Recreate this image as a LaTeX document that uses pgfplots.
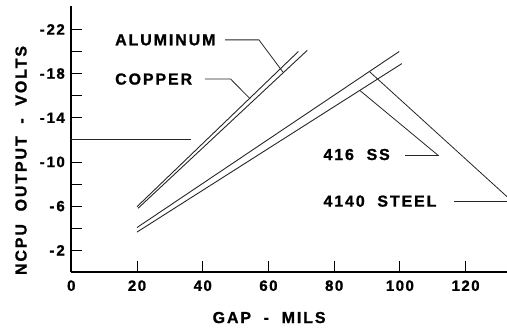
\documentclass[border=0pt]{standalone}
\usepackage{fontspec}
\setmainfont{Liberation Sans}[LetterSpace=12, BoldFeatures={FakeBold=1.2}]
\newfontfamily\tickfont{Liberation Sans}[LetterSpace=10, BoldFeatures={FakeBold=1.2}]
\usepackage{pgfplots}
\pgfplotsset{compat=1.18}
\begin{document}
\begin{tikzpicture}
\begin{axis}[
  scale only axis, width=435.7bp, height=266.2bp,
  xmin=0, xmax=132.6, ymin=-24.1, ymax=0, y dir=reverse,
  axis x line=bottom, axis y line=left,
  axis line style={-, line width=2.2bp, black},
  xtick={0,20,...,120}, xticklabels={0,20,40,60,80,100,120},
  ytick={-2,-6,-10,-14,-18,-22},
  yticklabels={-\kern2bp 2,-\kern2bp 6,-\kern2bp 10,-\kern2bp 14,-\kern2bp 18,-\kern2bp 22},
  minor ytick={-4,-8,-12,-16,-20},
  tick align=inside, major tick length=11bp, minor tick length=11bp,
  tick style={line width=0.8bp, black},
  ticklabel style={font=\tickfont\fontsize{15}{17}\selectfont\bfseries},
  xticklabel style={yshift=-4.5bp},
  yticklabel style={xshift=-3bp},
  clip=false,
]
% Copper
\addplot[black!85, line width=0.9bp] coordinates {(20,-5.95) (69.1,-20.0)};
% Aluminum
\addplot[black!85, line width=0.9bp] coordinates {(20.3,-5.8) (71.8,-20.1)};
% 4140 Steel
\addplot[black!85, line width=0.9bp] coordinates {(20,-4.06) (99.8,-20.0)};
% 416 SS
\addplot[black!85, line width=0.9bp] coordinates {(20,-3.65) (100.6,-18.9)};
% horizontal line
\addplot[black!85, line width=0.9bp] coordinates {(0,-12.08) (36.4,-12.08)};

% leaders
\draw[black!85, line width=0.8bp] (axis cs:46.8,-21.05) -- (axis cs:57.1,-21.05) -- (axis cs:64.5,-18.1);
\draw[black!85, line width=0.8bp] (axis cs:40.7,-17.5) -- (axis cs:48.5,-17.5) -- (axis cs:54.4,-15.72);
\draw[black!85, line width=0.8bp] (axis cs:101.6,-10.58) -- (axis cs:111.7,-10.58) -- (axis cs:87.9,-16.45);
\draw[black!85, line width=0.8bp] (axis cs:116.5,-6.45) -- (axis cs:134.1,-6.45);
\draw[black!85, line width=0.8bp] (axis cs:90.7,-18.19) -- (axis cs:134.1,-6.45);

\begin{scope}[every node/.style={inner sep=0pt, font=\fontsize{16}{18}\selectfont\bfseries}]
\node[anchor=west] at (axis cs:13.3,-21.05) {ALUMINUM};
\node[anchor=west] at (axis cs:13.3,-17.5) {COPPER};
\node[anchor=west] at (axis cs:76.7,-10.67) {416\ \ SS};
\node[anchor=west] at (axis cs:76.7,-6.45) {4140\ \ STEEL};
\node at (axis cs:60.2,4.09) {GAP\ \ -\ \ MILS};
\node[rotate=90] at (axis cs:-15.3,-10.13) {NCPU\ \ OUTPUT\ \ -\ \ VOLTS};
\end{scope}

\coordinate (bl) at (axis cs:-21.7,5.04);
\coordinate (tr) at (axis cs:132.6,-24.66);
\end{axis}
\pgfresetboundingbox
\useasboundingbox (bl) rectangle (tr);
\end{tikzpicture}
\end{document}
